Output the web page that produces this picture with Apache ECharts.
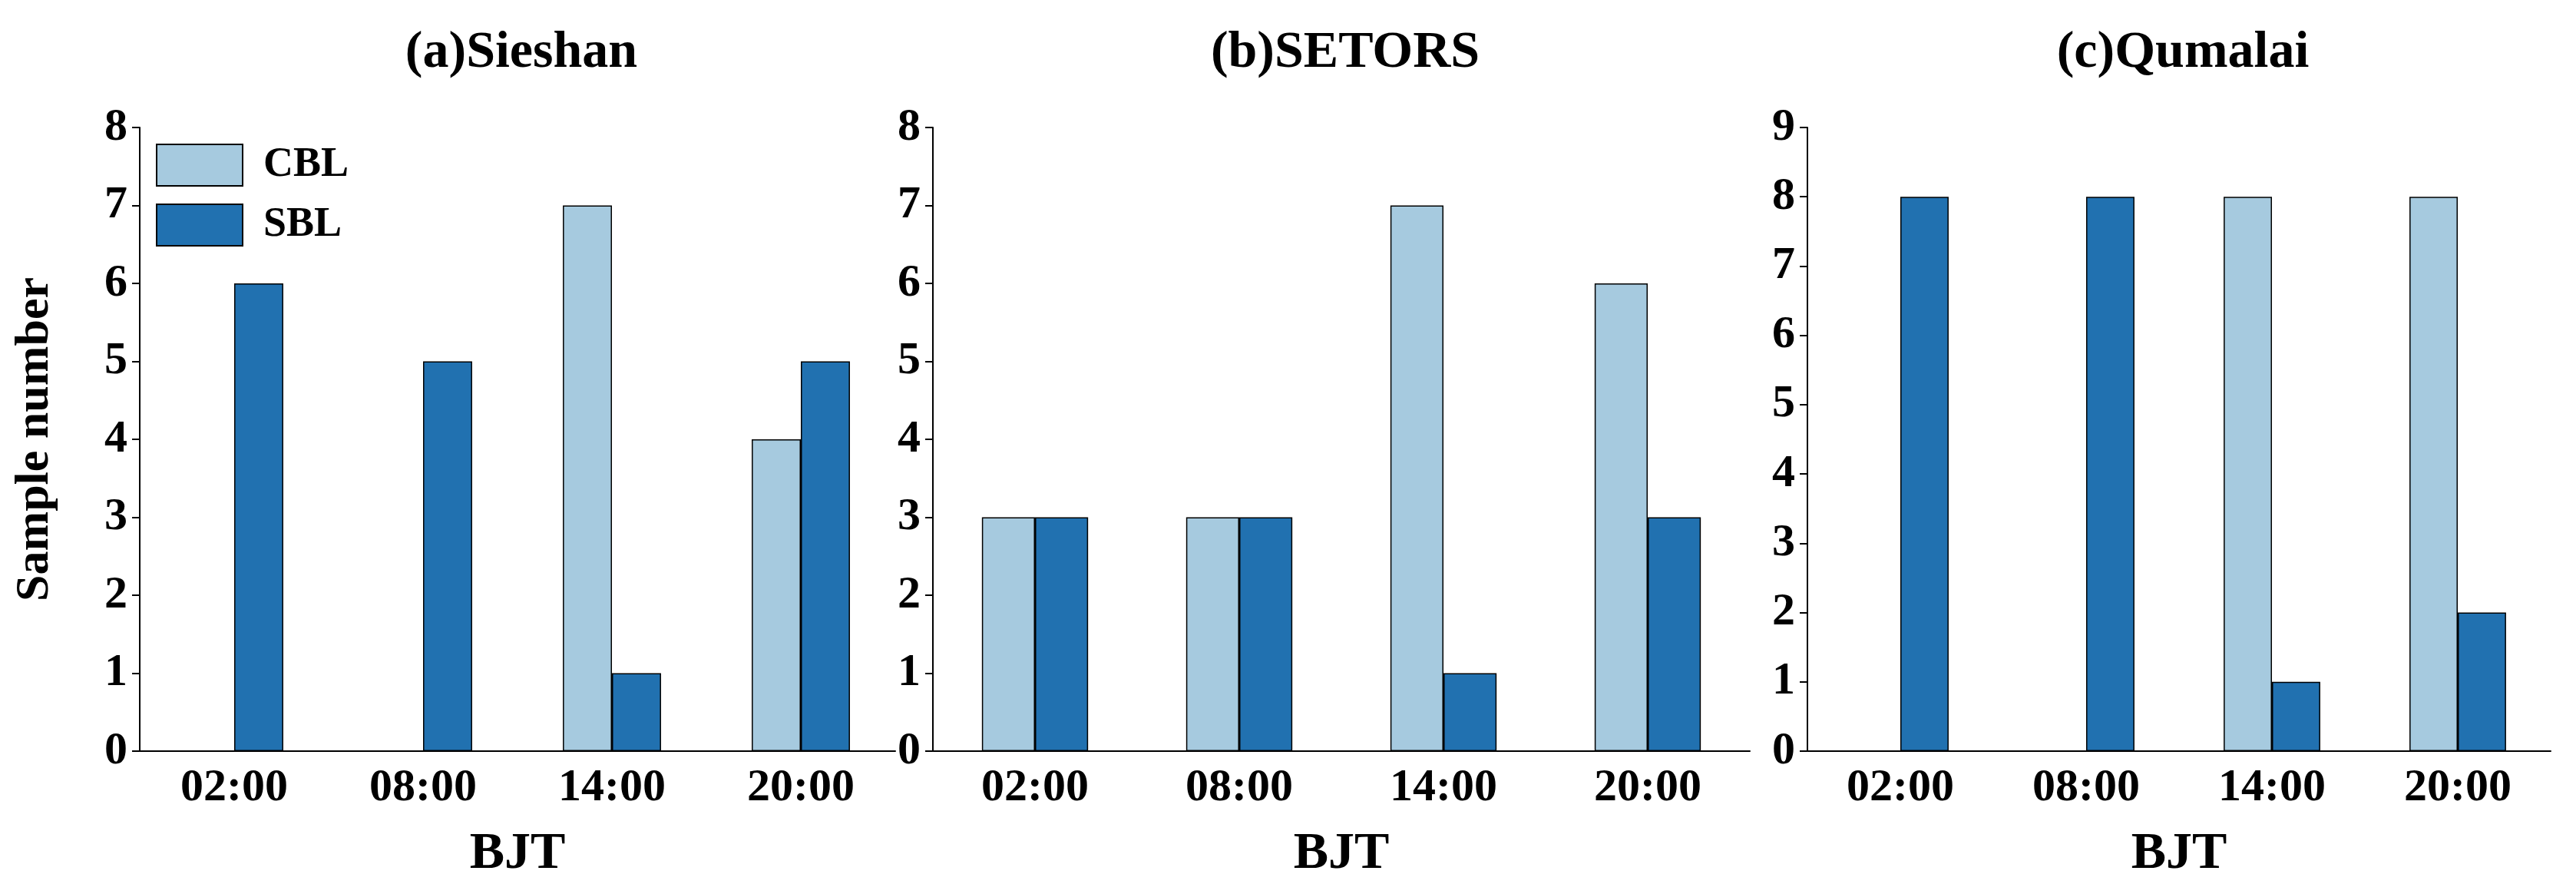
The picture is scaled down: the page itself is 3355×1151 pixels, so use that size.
<!DOCTYPE html>
<html>
<head>
<meta charset="utf-8">
<script src="https://cdn.jsdelivr.net/npm/echarts@6/dist/echarts.min.js"></script>
<style>html,body{margin:0;padding:0;background:#fff}#chart-container{width:3355px;height:1151px}</style>
</head>
<body>
<div id="chart-container"></div>
<script>
'use strict';
const hours = ['02:00', '08:00', '14:00', '20:00'];
const titles = ['(a)Sieshan', '(b)SETORS', '(c)Qumalai'];
const cblValues = [
    [0, 0, 7, 4],
    [3, 3, 7, 6],
    [0, 0, 8, 8]
];
const sblValues = [
    [6, 5, 1, 5],
    [3, 3, 1, 3],
    [8, 8, 1, 2]
];
const yMax = [8, 8, 9];

const font = '"Liberation Serif", "Times New Roman", serif';
const grids = [
    { left: 182, width: 984 },
    { left: 1215, width: 1064 },
    { left: 2354, width: 968 }
];

const myChart = echarts.init(document.getElementById('chart-container'), null, { renderer: 'canvas' });

const option = {
    backgroundColor: '#fff',
    animation: false,
    textStyle: { fontFamily: font },
    title: titles.map((t, i) => ({
        text: t,
        left: grids[i].left + grids[i].width / 2,
        textAlign: 'center',
        top: 30,
        textStyle: { fontFamily: font, fontWeight: 'bold', fontSize: 68, color: '#000' }
    })),
    legend: {
        data: ['CBL', 'SBL'],
        icon: 'rect',
        left: 198,
        top: 182,
        orient: 'vertical',
        itemWidth: 112,
        itemHeight: 54,
        itemGap: 22,
        textStyle: { fontFamily: font, fontWeight: 'bold', fontSize: 54, color: '#000', padding: [0, 0, 0, 22] }
    },
    grid: grids.map(g => ({ left: g.left, width: g.width, top: 166, bottom: 1151 - 1017 })),
    xAxis: grids.map((g, i) => ({
        type: 'category',
        gridIndex: i,
        data: hours,
        name: 'BJT',
        nameLocation: 'middle',
        nameGap: 100,
        nameTextStyle: { fontFamily: font, fontWeight: 'bold', fontSize: 68, color: '#000' },
        axisLine: { lineStyle: { color: '#000', width: 2 } },
        axisTick: { alignWithLabel: true, length: 10, lineStyle: { color: '#000', width: 2 } },
        axisLabel: { fontFamily: font, fontWeight: 'bold', fontSize: 60, color: '#000', margin: 18 }
    })),
    yAxis: grids.map((g, i) => ({
        type: 'value',
        gridIndex: i,
        min: 0,
        max: yMax[i],
        interval: 1,
        name: i === 0 ? 'Sample number' : '',
        nameLocation: 'middle',
        nameGap: 105,
        nameTextStyle: { fontFamily: font, fontWeight: 'bold', fontSize: 62, color: '#000' },
        splitLine: { show: false },
        axisLine: { show: true, lineStyle: { color: '#000', width: 2 } },
        axisTick: { show: true, length: 10, lineStyle: { color: '#000', width: 2 } },
        axisLabel: { fontFamily: font, fontWeight: 'bold', fontSize: 60, color: '#000', margin: 16 }
    })),
    series: []
};

titles.forEach((t, i) => {
    option.series.push({
        name: 'CBL', type: 'bar', xAxisIndex: i, yAxisIndex: i,
        data: cblValues[i], barGap: '0%', barCategoryGap: '48%',
        itemStyle: { color: '#a6cadf', borderColor: '#000', borderWidth: 1.5 }
    });
    option.series.push({
        name: 'SBL', type: 'bar', xAxisIndex: i, yAxisIndex: i,
        data: sblValues[i], barGap: '0%', barCategoryGap: '48%',
        itemStyle: { color: '#2171b0', borderColor: '#000', borderWidth: 1.5 }
    });
});

myChart.setOption(option);
window.addEventListener('resize', myChart.resize);
</script>
</body>
</html>
